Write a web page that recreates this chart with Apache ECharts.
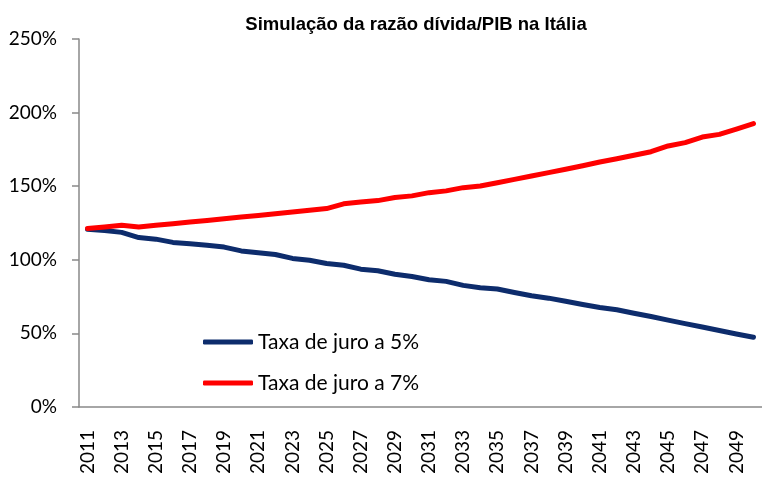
<!DOCTYPE html>
<html>
<head>
<meta charset="utf-8">
<script src="https://cdn.jsdelivr.net/npm/echarts@6/dist/echarts.min.js"></script>
<style>
html, body { margin: 0; padding: 0; background: #fff; }
#main { width: 762px; height: 477px; }
</style>
</head>
<body>
<div id="main"></div>
<script>
var years = [];
for (var y = 2011; y <= 2050; y++) years.push(String(y));

var juro5 = [120.8, 119.8, 118.6, 115.1, 114.0, 111.8, 110.8, 109.8, 108.6, 106.0,
             104.8, 103.6, 100.9, 99.7, 97.5, 96.3, 93.6, 92.5, 90.2, 88.6,
             86.4, 85.3, 82.6, 81.0, 80.1, 77.8, 75.5, 73.9, 71.8, 69.6,
             67.6, 66.0, 63.6, 61.4, 59.0, 56.6, 54.3, 51.9, 49.6, 47.3];

var juro7 = [121.2, 122.3, 123.4, 122.3, 123.4, 124.5, 125.6, 126.7, 127.9, 129.0,
             130.1, 131.3, 132.4, 133.6, 134.8, 138.0, 139.2, 140.2, 142.3, 143.4,
             145.6, 146.8, 149.0, 150.1, 152.3, 154.6, 156.9, 159.2, 161.5, 163.9,
             166.4, 168.6, 171.0, 173.4, 177.3, 179.6, 183.4, 185.2, 188.8, 192.5];

var seriesNames = ['Taxa de juro a 5%', 'Taxa de juro a 7%'];
var yTicks = [0, 50, 100, 150, 200, 250];

function render() {
    var myChart = echarts.init(document.getElementById('main'));
    var font = 'Lato, "Open Sans", sans-serif';

    var option = {
        animation: false,
        title: {
            text: 'Simulação da razão dívida/PIB na Itália',
            left: 411,
            top: 10,
            textAlign: 'center',
            textStyle: {
                fontFamily: '"Liberation Sans", Arial, sans-serif',
                fontWeight: 'bold',
                fontSize: 18.5,
                color: '#000'
            }
        },
        legend: {
            orient: 'vertical',
            left: 198,
            top: 326,
            itemWidth: 50,
            itemHeight: 5,
            itemGap: 19,
            icon: 'roundRect',
            data: seriesNames,
            textStyle: {
                fontFamily: font,
                fontSize: 21,
                lineHeight: 22,
                color: '#000'
            }
        },
        grid: {
            left: 79,
            top: 39,
            width: 684,
            height: 369,
            containLabel: false
        },
        xAxis: [
            {
                type: 'category',
                boundaryGap: true,
                data: years,
                axisLine: { lineStyle: { color: '#898989', width: 1.5 } },
                axisTick: { length: 7, lineStyle: { color: '#898989', width: 1.5 } },
                axisLabel: {
                    interval: 1,
                    rotate: 90,
                    margin: 23,
                    fontFamily: font,
                    fontSize: 19,
                    color: '#000'
                }
            }
        ],
        yAxis: [
            {
                type: 'value',
                min: yTicks[0],
                max: yTicks[yTicks.length - 1],
                interval: 50,
                splitLine: { show: false },
                axisLine: { show: true, lineStyle: { color: '#898989', width: 1.5 } },
                axisTick: { show: true, length: 7, lineStyle: { color: '#898989', width: 1.5 } },
                axisLabel: {
                    margin: 22,
                    formatter: '{value}%',
                    fontFamily: font,
                    fontSize: 19,
                    color: '#000'
                }
            }
        ],
        series: [
            {
                name: seriesNames[0],
                type: 'line',
                data: juro5,
                symbol: 'none',
                color: '#0d2c6c',
                lineStyle: { width: 5, color: '#0d2c6c', cap: 'round', join: 'round' }
            },
            {
                name: seriesNames[1],
                type: 'line',
                data: juro7,
                symbol: 'none',
                color: '#ff0000',
                lineStyle: { width: 5, color: '#ff0000', cap: 'round', join: 'round' }
            }
        ]
    };

    myChart.setOption(option);
}

render();
</script>
</body>
</html>
